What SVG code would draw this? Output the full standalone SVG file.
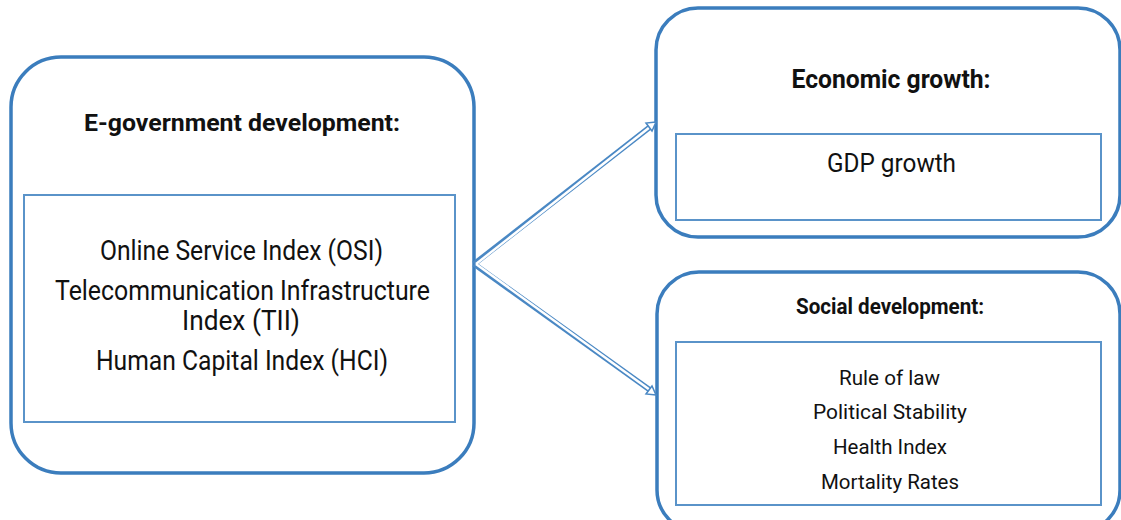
<svg xmlns="http://www.w3.org/2000/svg" width="1121" height="520" viewBox="0 0 1121 520">
<style>
.outer{fill:#fff;stroke:#3b7dbd;stroke-width:3.5}
.inner{fill:#fff;stroke:#5a93c9;stroke-width:2}
.t{font-family:Roboto,"Liberation Sans",sans-serif;text-anchor:middle;fill:#111}
.b{font-weight:bold}
.lo{fill:none;stroke:#4a88c4;stroke-width:5.5}
.li{fill:none;stroke:#fff;stroke-width:2.5}
.hd{fill:#fff;stroke:#4a88c4;stroke-width:1.5}
</style>
<rect width="1121" height="520" fill="#fff"/>
<g id="egov">
<rect class="outer" x="11" y="57" width="463" height="416" rx="50"/>
<rect class="inner" x="24" y="195" width="431" height="227"/>
<text class="t b" x="242" y="131" font-size="24.5" textLength="316" lengthAdjust="spacingAndGlyphs">E-government development:</text>
<text class="t" x="241.5" y="260" font-size="27" textLength="283" lengthAdjust="spacingAndGlyphs">Online Service Index (OSI)</text>
<text class="t" x="242.5" y="300" font-size="27" textLength="375" lengthAdjust="spacingAndGlyphs">Telecommunication Infrastructure</text>
<text class="t" x="241" y="330" font-size="27" textLength="118" lengthAdjust="spacingAndGlyphs">Index (TII)</text>
<text class="t" x="242" y="370" font-size="27" textLength="292" lengthAdjust="spacingAndGlyphs">Human Capital Index (HCI)</text>
</g>
<g id="econ">
<rect class="outer" x="656" y="8" width="464" height="229" rx="42"/>
<rect class="inner" x="676" y="134" width="425" height="86"/>
<text class="t b" x="891" y="88" font-size="25.5" textLength="199" lengthAdjust="spacingAndGlyphs">Economic growth:</text>
<text class="t" x="891.5" y="172" font-size="25.5" textLength="129" lengthAdjust="spacingAndGlyphs">GDP growth</text>
</g>
<g id="social">
<rect class="outer" x="657" y="272" width="463" height="260" rx="42"/>
<rect class="inner" x="676" y="342" width="425" height="163"/>
<text class="t b" x="890" y="314" font-size="22" textLength="188" lengthAdjust="spacingAndGlyphs">Social development:</text>
<text class="t" x="889.5" y="385" font-size="21" textLength="101" lengthAdjust="spacingAndGlyphs">Rule of law</text>
<text class="t" x="890" y="419" font-size="21" textLength="154" lengthAdjust="spacingAndGlyphs">Political Stability</text>
<text class="t" x="890" y="454" font-size="21" textLength="114" lengthAdjust="spacingAndGlyphs">Health Index</text>
<text class="t" x="890" y="489" font-size="21" textLength="138" lengthAdjust="spacingAndGlyphs">Mortality Rates</text>
</g>
<g id="connectors">
<path class="lo" d="M474,264 L650,127"/>
<path class="lo" d="M474,264 L650,390"/>
<path class="li" d="M476,264 L650,127"/>
<path class="li" d="M476,264 L650,390"/>
<polygon class="hd" points="656,122 646,123 652,131"/>
<polygon class="hd" points="656,395 646,394 652,386"/>
</g>
</svg>
